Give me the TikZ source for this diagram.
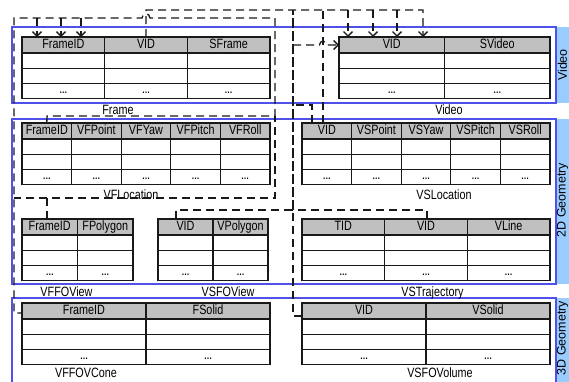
\documentclass[tikz,border=0pt]{standalone}
\usepackage{fontspec}
\setmainfont{Liberation Sans}[FakeStretch=0.8]
\newfontfamily\stripfont{Liberation Sans}
\usetikzlibrary{arrows.meta}
\definecolor{hdrgray}{RGB}{192,192,192}
\definecolor{secblue}{RGB}{80,80,235}
\definecolor{stripblue}{RGB}{153,204,255}
\definecolor{lineblk}{RGB}{25,25,25}
\newcommand{\dotsmark}{{\fontsize{10}{10}\bfseries …}}
\newcommand{\dbtab}[5]{%
  \foreach \h [count=\i from 0] in {#5} {
    \node[hdr, minimum width=#4pt] (#1h\i) at ({#2+\i*#4},{#3}) {\h};
    \node[cell, minimum width=#4pt] (#1a\i) at ({#2+\i*#4},{#3+16}) {};
    \node[cell, minimum width=#4pt] (#1b\i) at ({#2+\i*#4},{#3+31.3}) {};
    \node[cell, minimum width=#4pt] (#1c\i) at ({#2+\i*#4},{#3+46.6}) {\dotsmark};
  }%
}
\tikzset{
  hdr/.style={draw=lineblk, fill=hdrgray, line width=1.1pt, minimum height=16pt,
    inner sep=0pt, outer sep=0pt, anchor=north west, text height=10pt, text depth=3.5pt},
  cell/.style={draw=lineblk, line width=1.1pt, minimum height=15.3pt,
    inner sep=0pt, outer sep=0pt, anchor=north west, text height=7pt, text depth=3pt},
  lbl/.style={inner sep=0pt, anchor=base},
  sec/.style={draw=secblue, line width=1.1pt},
  striplbl/.style={rotate=90, inner sep=0pt, font=\stripfont\fontsize{12.5}{14}\selectfont},
  fk/.style={line width=1.3pt, dash pattern=on 8pt off 5pt, lineblk},
  fkarr/.style={fk, -{Straight Barb[length=4.5pt,width=9pt]}},
}
\begin{document}
\begin{tikzpicture}[x=1pt,y=-1pt,font=\fontsize{13.5}{15}\selectfont]
\path[use as bounding box] (0,0) rectangle (569,381);
\clip (0,0) rectangle (569,381);

% sections
\fill[stripblue] (556,27) rectangle (572,103);
\fill[stripblue] (556,119) rectangle (572,284);
\fill[stripblue] (556,298) rectangle (572,395);
\draw[sec] (12,27) rectangle (556,103);
\draw[sec] (12,119) rectangle (556,284);
\draw[sec] (12,298) rectangle (556,395);
\node[striplbl] (sVideo) at (562.5,65) {Video};
\node[striplbl] (s2D) at (562.5,200) {2D Geometry};
\node[striplbl] (s3D) at (562.5,338) {3D Geometry};

% tables
\dbtab{FR}{22}{37}{82.67}{FrameID,VID,SFrame}
\dbtab{VI}{339}{37}{105.5}{VID,SVideo}
\dbtab{VFL}{22}{123}{49.6}{FrameID,VFPoint,VFYaw,VFPitch,VFRoll}
\dbtab{VSL}{302}{123}{49.6}{VID,VSPoint,VSYaw,VSPitch,VSRoll}
\dbtab{VFF}{22}{219}{55.5}{FrameID,FPolygon}
\dbtab{VSF}{158}{219}{55}{VID,VPolygon}
\dbtab{VST}{302}{219}{82.67}{TID,VID,VLine}
\dbtab{VFC}{22}{303}{124}{FrameID,FSolid}
\dbtab{VSO}{302}{303}{124}{VID,VSolid}

% table captions
\node[lbl] (lFR) at (118,114.5) {Frame};
\node[lbl] (lVI) at (449,114.5) {Video};
\node[lbl] (lVFL) at (131,199.5) {VFLocation};
\node[lbl] (lVSL) at (444,199.5) {VSLocation};
\node[lbl] (lVFF) at (66.5,296.5) {VFFOView};
\node[lbl] (lVSF) at (228,296.5) {VSFOView};
\node[lbl] (lVST) at (432.5,296.5) {VSTrajectory};
\node[lbl] (lVFC) at (86,377.5) {VFFOVCone};
\node[lbl] (lVSO) at (440,377.5) {VSFOVolume};

% waypoints
\coordinate (tFR) at (146,10);
\coordinate (tEnd) at (423,10);

% FrameID references
\draw[fk] (VFLh0.north) -- (47,116) -- (275,116) -- (275,18) -- (150,18)
  .. controls (150,12.5) and (142,12.5) .. (142,18) -- (14,18) -- (14,313) -- (VFCh0.west |- 0,313);
\draw[fk] (VFFh0.north -| 47,0) -- (47,198) -- (275,198) -- (275,116);
\draw[fk] (47,198) -- (14,198);
\draw[fkarr] (37,18) -- ([xshift=15pt]FRh0.north west);
\draw[fkarr] (61,18) -- ([xshift=39pt]FRh0.north west);
\draw[fkarr] (81,18) -- ([xshift=59pt]FRh0.north west);

% VID references
\draw[fkarr] (FRh1.north) -- (tFR) -- (tEnd) -- ([xshift=84pt]VIh0.north west);
\draw[fkarr] (348,10) -- ([xshift=9pt]VIh0.north west);
\draw[fkarr] (373,10) -- ([xshift=34pt]VIh0.north west);
\draw[fkarr] (397,10) -- ([xshift=58pt]VIh0.north west);
\draw[fk] (VSOh0.west |- 0,316) -- (293,316) -- (293,10);
\draw[fk] (VSTh1.north -| 427,0) -- (427,210) -- (293,210) -- (293,10);
\draw[fk] (VSFh0.north -| 176,0) -- (176,210) -- (293,210);
\draw[fkarr] (293,45) -- (319.5,45) .. controls (319.5,40) and (326.5,40) .. (326.5,45) -- (VIh0.west);
\draw[fk] (VSLh0.north -| 312,0) -- (312,105) -- (293,105);
\draw[fk] (VSLh0.north -| 323,0) -- (323,10);
\end{tikzpicture}
\end{document}
